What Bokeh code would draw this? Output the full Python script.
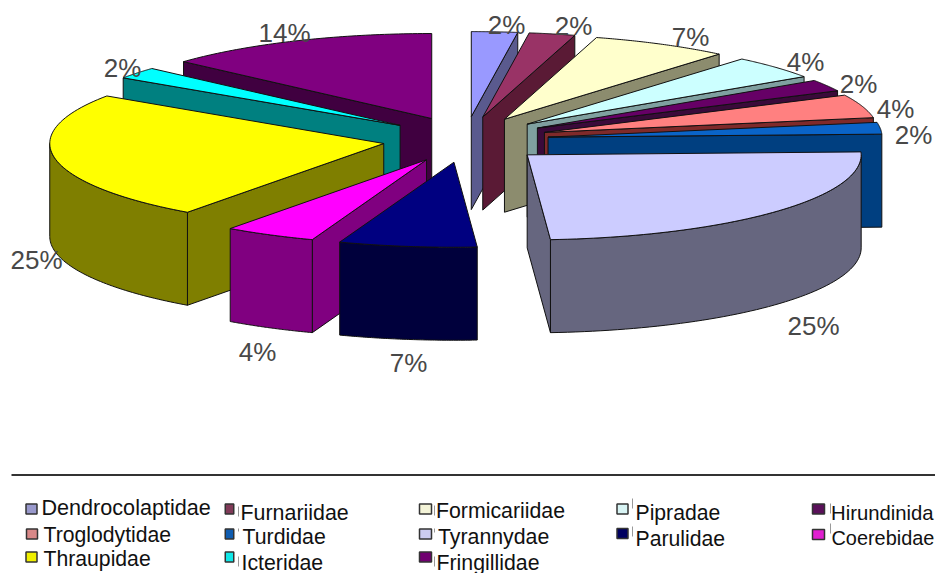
import numpy as np
from bokeh.plotting import figure
from bokeh.models import Range1d
from bokeh.core.properties import value
from bokeh.embed import file_html
from bokeh.resources import INLINE

# ---- data ----
families = ["Dendrocolaptidae", "Furnariidae", "Formicariidae", "Pipradae", "Hirundinida",
            "Troglodytidae", "Turdidae", "Tyrannydae", "Parulidae", "Coerebidae",
            "Thraupidae", "Icteridae", "Fringillidae"]
species_counts = [1, 1, 3, 2, 1, 2, 1, 11, 3, 2, 11, 1, 6]
percent_labels = ["2%", "2%", "7%", "4%", "2%", "4%", "2%", "25%", "7%", "4%", "25%", "2%", "14%"]

# ---- styles ----
top_colors = ["#9999FF", "#993366", "#FFFFCC", "#CCFFFF", "#660066", "#FF8080", "#0A64C8",
              "#CCCCFF", "#000080", "#FF00FF", "#FFFF00", "#00FFFF", "#800080"]
side_colors = ["#5A5A8E", "#5A1A35", "#8C8C6E", "#7FA0A0", "#3A0A3A", "#7F2A2A", "#003F80",
               "#66667F", "#00003C", "#800080", "#7F7F00", "#008080", "#400040"]
legend_colors = ["#9999CC", "#803A58", "#F4F4D8", "#D8F4F4", "#5A105A", "#D88888", "#0F5CB0",
                 "#CCCCF0", "#000060", "#E020D0", "#F0F000", "#10E8E8", "#700070"]

# ---- layout (screen pixels) ----
CX, CY = 465.0, 139.0
RX, RY = 334.0, 85.0
DEPTH = 93.0
EXPLODE_X, EXPLODE_Y = 0.2485, 0.27
label_x = [506, 573, 690, 805, 858, 895, 913, 813, 408, 257, 36, 122, 284]
label_y = [24, 25, 36, 61, 83, 108, 134, 325, 362, 351, 259, 67, 32]
draw_order = [0, 1, 2, 3, 4, 5, 6, 7, 12, 11, 10, 9, 8]
legend_square_x = [31, 229, 425, 622, 818, 31.5, 229, 425, 622, 818, 31, 229, 425]
legend_square_y = [508.5, 508.5, 508.5, 508.5, 508.5, 533.5, 533.5, 533.5, 533, 534, 556.5, 556.5, 556.5]
legend_square_w = [11, 8.5, 12, 11, 12, 11, 8.5, 12, 11, 12, 11, 8.5, 12]
legend_square_h = 10
legend_text_x = [41, 240, 435.5, 635, 830.5, 43, 242, 437.5, 635, 831, 43, 241, 436]
legend_text_y = [507, 512, 510, 512, 512, 534, 536, 536, 538, 537, 558, 562, 562]
legend_text_size = ["21.6px", "21.4px", "21.3px", "21.2px", "20.3px", "21.2px", "21.3px", "21.3px",
                    "21.2px", "19.9px", "21.2px", "21.3px", "21.3px"]
tick_x = [238, 238, 238, 434, 434, 434, 632, 632, 830, 830]
tick_y0 = [506, 528, 556, 505, 528, 556, 498, 526, 503, 523]
tick_y1 = [516, 531, 566, 515, 532, 566, 508, 536, 513, 533]

p = figure(width=935, height=573, x_range=Range1d(0, 935), y_range=Range1d(573, 0),
           x_axis_location=None, y_axis_location=None, toolbar_location=None,
           output_backend="svg", min_border=0, outline_line_color=None,
           background_fill_color="white", border_fill_color="white")
p.grid.visible = False


def rim(ax, ay, deg):
    t = np.radians(deg)
    return ax + RX * np.sin(t), ay - RY * np.cos(t)


edges = np.concatenate([[0], np.cumsum(species_counts)]) / sum(species_counts) * 360.0
xs, ys, fills = [], [], []
for i in draw_order:
    a, b = edges[i], edges[i + 1]
    mid = np.radians((a + b) / 2)
    ax = CX + EXPLODE_X * RX * np.sin(mid)
    ay = CY - EXPLODE_Y * RY * np.cos(mid)
    dark = side_colors[i]
    if a > 180:
        rx, ry = rim(ax, ay, a)
        xs.append([ax, rx, rx, ax]); ys.append([ay, ry, ry + DEPTH, ay + DEPTH]); fills.append(dark)
    if b < 180:
        rx, ry = rim(ax, ay, b)
        xs.append([ax, rx, rx, ax]); ys.append([ay, ry, ry + DEPTH, ay + DEPTH]); fills.append(dark)
    lo, hi = max(a, 90), min(b, 270)
    if lo < hi:
        ax_x, ax_y = rim(ax, ay, np.linspace(lo, hi, 60))
        xs.append(list(ax_x) + list(ax_x[::-1]))
        ys.append(list(ax_y) + list(ax_y[::-1] + DEPTH))
        fills.append(dark)
    tx, ty = rim(ax, ay, np.linspace(a, b, 60))
    xs.append([ax] + list(tx)); ys.append([ay] + list(ty)); fills.append(top_colors[i])

for x, y, f in zip(xs, ys, fills):
    p.patch(x, y, fill_color=f, line_color="#111111", line_width=1, line_join="round")

p.text(x=label_x, y=label_y, text=percent_labels, text_font=value("Liberation Sans"),
       text_font_size="26px", text_color="#484848", text_align="center", text_baseline="middle")

p.segment(x0=[11], y0=[474.5], x1=[935], y1=[474.5], line_color="#333333", line_width=2)

p.segment(x0=tick_x, y0=tick_y0, x1=tick_x, y1=tick_y1, line_color="#999999", line_width=1)
p.rect(x=legend_square_x, y=legend_square_y, width=legend_square_w, height=legend_square_h,
       fill_color=legend_colors, line_color="#333333", line_width=1.5)
p.text(x=legend_text_x, y=legend_text_y, text=families, text_font=value("Liberation Sans"),
       text_font_size=legend_text_size, text_color="#111111", text_align="left", text_baseline="middle")

open("out.html", "w").write(file_html(p, INLINE))
